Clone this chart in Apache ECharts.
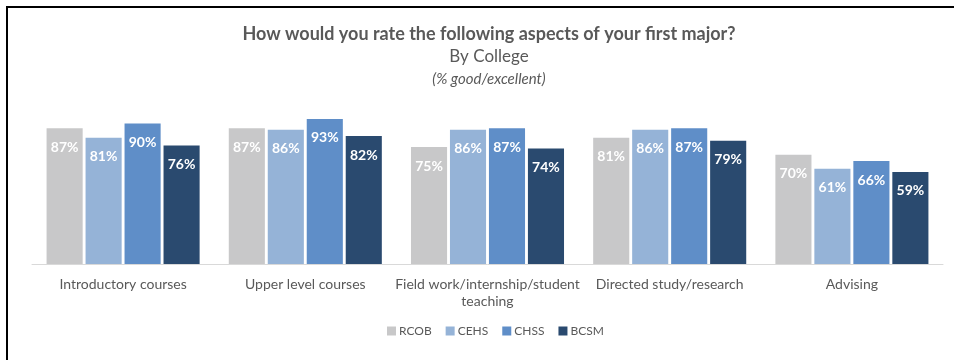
<!DOCTYPE html>
<html>
<head>
<meta charset="utf-8">
<script src="https://cdn.jsdelivr.net/npm/echarts@6/dist/echarts.min.js"></script>
<style>
  html, body { margin: 0; padding: 0; background: #fff; }
  #chart { width: 954px; height: 360px; }
</style>
</head>
<body>
<div id="chart"></div>
<script>
// Survey results: share rating each aspect good/excellent, by college
const categories = [
  'Introductory courses',
  'Upper level courses',
  'Field work/internship/student\nteaching',
  'Directed study/research',
  'Advising'
];
const colleges = ['RCOB', 'CEHS', 'CHSS', 'BCSM'];
const rcob = [87, 87, 75, 81, 70];
const cehs = [81, 86, 86, 86, 61];
const chss = [90, 93, 87, 87, 66];
const bcsm = [76, 82, 74, 79, 59];
const collegeColors = ['#c8c8c9', '#95b3d7', '#5f8ec8', '#2a4a6f'];

const FONT = 'Lato';
const TEXT_GRAY = '#595959';
const TITLE_CENTER_X = 484;
const seriesValues = [rcob, cehs, chss, bcsm];

const chart = echarts.init(document.getElementById('chart'));
chart.setOption({
  animation: false,
  textStyle: { fontFamily: FONT },
  title: [
    {
      text: 'How would you rate the following aspects of your first major?',
      left: TITLE_CENTER_X, top: 20, textAlign: 'center',
      textStyle: { fontFamily: FONT, fontSize: 18, fontWeight: 'bold', color: TEXT_GRAY }
    },
    {
      text: 'By College',
      left: TITLE_CENTER_X, top: 43, textAlign: 'center',
      textStyle: { fontFamily: FONT, fontSize: 17, fontWeight: 'normal', color: TEXT_GRAY }
    },
    {
      text: '(% good/excellent)',
      left: TITLE_CENTER_X, top: 67, textAlign: 'center',
      textStyle: { fontFamily: FONT, fontSize: 15, fontStyle: 'italic', fontWeight: 'normal', color: TEXT_GRAY }
    }
  ],
  graphic: [
    {
      type: 'rect',
      shape: { x: 7, y: 7, width: 960, height: 370 },
      style: { fill: 'none', stroke: '#000', lineWidth: 2 },
      silent: true
    }
  ],
  legend: {
    bottom: 18,
    left: 382,
    itemWidth: 9, itemHeight: 9, itemGap: 14,
    icon: 'rect',
    textStyle: { fontFamily: FONT, fontSize: 12, color: TEXT_GRAY, padding: [0, 0, 0, -2] },
    data: colleges
  },
  grid: { left: 32, right: 11, top: 108, bottom: 96 },
  xAxis: {
    type: 'category',
    data: categories,
    axisLine: { lineStyle: { color: '#d9d9d9', width: 1 } },
    axisTick: { show: false },
    axisLabel: { fontFamily: FONT, fontSize: 14, color: TEXT_GRAY, margin: 12, lineHeight: 17, interval: 0 }
  },
  yAxis: {
    type: 'value', min: 0, max: 100, show: false,
    splitLine: { show: false }
  },
  series: colleges.map((name, i) => ({
    name,
    type: 'bar',
    data: seriesValues[i],
    barGap: '8%',
    barCategoryGap: '16%',
    itemStyle: { color: collegeColors[i] },
    label: {
      show: true,
      position: 'insideTop',
      distance: 12,
      formatter: '{c}%',
      fontFamily: FONT,
      fontSize: 14,
      fontWeight: 'bold',
      color: '#fff'
    }
  }))
});
</script>
</body>
</html>
